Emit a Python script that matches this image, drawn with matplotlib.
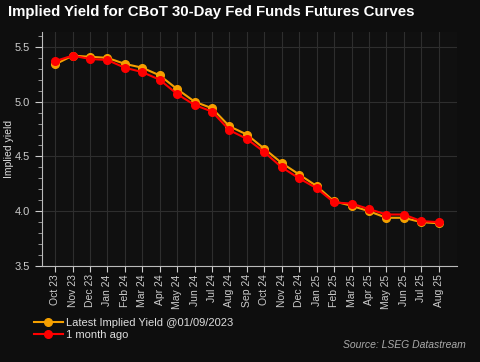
import matplotlib
matplotlib.use("Agg")
import matplotlib.pyplot as plt
from matplotlib.ticker import MultipleLocator

plt.rcParams["font.family"] = ["Liberation Sans", "DejaVu Sans"]

months = ["Oct 23", "Nov 23", "Dec 23", "Jan 24", "Feb 24", "Mar 24", "Apr 24", "May 24",
          "Jun 24", "Jul 24", "Aug 24", "Sep 24", "Oct 24", "Nov 24", "Dec 24", "Jan 25",
          "Feb 25", "Mar 25", "Apr 25", "May 25", "Jun 25", "Jul 25", "Aug 25"]
latest = [5.34, 5.42, 5.41, 5.40, 5.345, 5.31, 5.24, 5.115, 5.00, 4.94, 4.775, 4.70,
          4.57, 4.44, 4.335, 4.23, 4.09, 4.05, 4.00, 3.94, 3.94, 3.90, 3.89]
month_ago = [5.37, 5.42, 5.39, 5.38, 5.31, 5.27, 5.20, 5.07, 4.97, 4.91, 4.74, 4.66,
             4.54, 4.40, 4.30, 4.21, 4.08, 4.07, 4.02, 3.97, 3.97, 3.91, 3.90]

W, H = 481, 362
fig = plt.figure(figsize=(W / 100, H / 100), dpi=100, facecolor="#0e0e0e")
ax = fig.add_axes([42 / W, 1 - 266 / H, (457 - 42) / W, (266 - 32) / H])
ax.set_facecolor("#101010")

x = list(range(len(months)))
ax.plot(x, latest, color="#f5a000", lw=1.5, marker="o", ms=5.5, mec="#f5a000",
        label="Latest Implied Yield @01/09/2023", zorder=3)
ax.plot(x, month_ago, color="#ff0000", lw=1.5, marker="o", ms=5.5, mec="#ff0000",
        label="1 month ago", zorder=4)

ax.set_xlim(-0.75, 23.05)
ax.set_ylim(3.5, 5.636)
ax.yaxis.set_major_locator(MultipleLocator(0.5))
ax.yaxis.set_minor_locator(MultipleLocator(0.1))
ax.set_xticks(x)
ax.set_xticklabels(months, rotation=90, fontsize=7.5, color="#cccccc")
ax.tick_params(axis="y", labelsize=8, colors="#cccccc", direction="out", length=5)
ax.tick_params(axis="y", which="minor", length=3, color="#aaaaaa")
ax.tick_params(axis="x", colors="#cccccc", direction="out", length=4, pad=2)
ax.grid(True, color="#2e2e2e", lw=0.8)
for s in ["top", "right"]:
    ax.spines[s].set_visible(False)
for s in ["left", "bottom"]:
    ax.spines[s].set_color("#bbbbbb")
ax.set_ylabel("Implied yield", fontsize=7.5, color="#dddddd")
ax.yaxis.set_label_coords(-(42 - 14) / (457 - 42), 0.5)

fig.text(8 / W, 1 - 12 / H, "Implied Yield for CBoT 30-Day Fed Funds Futures Curves",
         fontsize=10.8, fontweight="bold", color="white", va="center", ha="left")

leg = fig.legend(loc="upper left", bbox_to_anchor=(34 / W, 1 - 318 / H), frameon=False,
                 fontsize=8, labelcolor="#dddddd", handlelength=2.6, handletextpad=0.3,
                 labelspacing=0.15, borderpad=0, borderaxespad=0)
fig.text(466 / W, 1 - 345 / H, "Source: LSEG Datastream", fontsize=7.5, style="italic",
         color="#aaaaaa", ha="right", va="center")

fig.savefig("out.png", dpi=100, facecolor=fig.get_facecolor())
